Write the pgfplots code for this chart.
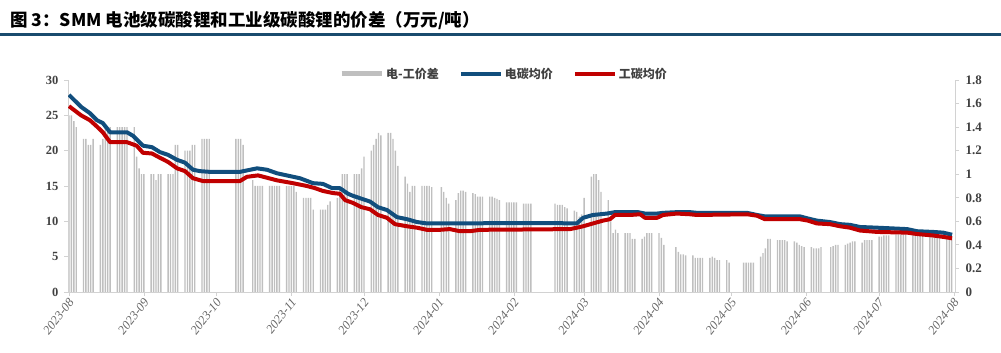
\documentclass[border=0pt]{standalone}
\usepackage{pgfplots}
\pgfplotsset{compat=1.18}
\usepackage{fontspec}
\setmainfont{Liberation Serif}
\newfontfamily\cjk{Noto Sans CJK SC}
\definecolor{bluec}{RGB}{17,78,125}
\definecolor{redc}{RGB}{192,0,0}
\definecolor{barc}{RGB}{191,191,191}
\definecolor{rulec}{RGB}{25,75,110}
\definecolor{txtc}{RGB}{64,64,64}
\definecolor{axc}{RGB}{210,210,210}
\pgfplotstableread{
d v
0 1.5
1 1.5
2 1.45
3 1.4
6 1.3
7 1.3
8 1.25
9 1.25
10 1.3
13 1.25
14 1.3
15 1.4
16 1.4
17 1.4
20 1.4
21 1.4
22 1.4
23 1.4
24 1.4
27 1.4
28 1.15
29 1.05
30 1.0
31 1.0
34 1.0
35 1.0
36 0.95
37 1.0
38 1.0
41 1.0
42 1.0
43 1.0
44 1.25
45 1.25
48 1.2
49 1.2
50 1.2
51 1.25
52 1.25
55 1.3
56 1.3
57 1.3
58 1.3
69 1.3
70 1.3
71 1.3
72 1.25
76 0.95
77 0.9
78 0.9
79 0.9
80 0.9
83 0.9
84 0.9
85 0.9
86 0.9
87 0.9
90 0.9
91 0.9
92 0.9
93 0.9
94 0.85
97 0.8
98 0.8
99 0.8
100 0.8
101 0.7
104 0.7
105 0.7
106 0.7
107 0.74
108 0.77
111 0.8
112 0.89
113 1.0
114 1.0
115 1.0
118 1.0
119 1.0
120 1.0
121 1.05
122 1.15
125 1.2
126 1.25
127 1.3
128 1.35
129 1.33
132 1.35
133 1.35
134 1.3
135 1.2
136 1.07
139 0.98
140 0.92
141 0.85
142 0.9
143 0.9
146 0.9
147 0.9
148 0.9
149 0.9
150 0.89
154 0.89
155 0.85
156 0.8
157 0.75
160 0.78
161 0.84
162 0.86
163 0.86
164 0.85
167 0.84
168 0.83
169 0.81
170 0.81
171 0.81
174 0.81
175 0.81
176 0.8
177 0.79
178 0.78
181 0.76
182 0.76
183 0.76
184 0.76
185 0.76
188 0.75
189 0.75
190 0.75
191 0.75
201 0.75
202 0.74
203 0.74
204 0.74
205 0.72
206 0.71
209 0.69
210 0.68
211 0.64
212 0.66
213 0.8
216 0.98
217 1.0
218 1.0
219 0.95
220 0.85
223 0.78
224 0.6
225 0.5
226 0.53
227 0.5
230 0.5
231 0.5
232 0.5
233 0.45
234 0.45
237 0.45
238 0.47
239 0.5
240 0.5
241 0.5
244 0.5
245 0.46
246 0.4
251 0.38
252 0.34
253 0.32
254 0.32
255 0.31
258 0.31
259 0.29
260 0.29
261 0.29
262 0.29
265 0.29
266 0.3
267 0.29
268 0.27
269 0.27
272 0.27
273 0.25
279 0.25
280 0.25
281 0.25
282 0.25
283 0.25
286 0.3
287 0.33
288 0.37
289 0.45
290 0.45
293 0.44
294 0.44
295 0.44
296 0.44
297 0.43
300 0.43
301 0.42
302 0.4
303 0.39
304 0.38
307 0.38
308 0.37
309 0.37
310 0.37
311 0.38
315 0.38
316 0.39
317 0.4
318 0.4
321 0.4
322 0.41
323 0.42
324 0.43
325 0.43
328 0.42
329 0.44
330 0.44
331 0.44
332 0.44
335 0.47
336 0.47
337 0.48
338 0.48
339 0.48
342 0.49
343 0.49
344 0.49
345 0.49
346 0.49
349 0.49
350 0.49
351 0.49
352 0.49
353 0.49
356 0.48
357 0.48
358 0.48
359 0.48
360 0.48
363 0.46
364 0.45
365 0.45
}\spread
\pgfplotstableread{
d v
0 27.9
5 26.2
8.7 25.3
11.6 24.3
14 23.9
17 22.6
24 22.6
26.5 22.1
30.6 20.7
34.3 20.5
37.6 19.8
41 19.4
44.7 18.7
48 18.3
51.3 17.3
54.2 17.1
58.3 17.0
70.7 17.0
77.8 17.5
81.9 17.3
86 16.8
91.4 16.4
95.5 16.1
100.9 15.4
105 15.3
108.8 14.7
112 14.7
115.4 13.9
117.5 13.6
121 13.2
124.5 12.8
127.8 12.0
131.5 11.6
135.6 10.6
139.8 10.3
143.9 9.9
148 9.7
160 9.7
180 9.75
200 9.75
210 9.7
212.6 10.5
216.7 10.9
222.5 11.1
225.8 11.3
235.3 11.3
238.2 11.1
243.2 11.1
245.7 11.2
251.4 11.3
256.8 11.3
259.7 11.2
272 11.2
280.4 11.2
284.5 10.9
287.8 10.7
302.3 10.7
305.6 10.4
309.3 10.1
314.7 9.9
318.9 9.6
323 9.5
327.1 9.2
334.2 9.1
346.6 8.9
350.7 8.6
357.3 8.5
361.5 8.4
365.2 8.1
}\battery
\pgfplotstableread{
d v
0 26.3
5 25.0
8.7 24.3
11.6 23.4
14 22.6
17 21.2
24 21.2
28 20.7
30.6 19.7
34.3 19.6
37.6 19.0
41 18.4
44.7 17.5
48 17.1
51.3 16.1
55.4 15.7
70.7 15.7
73.6 16.3
78.2 16.5
86 15.8
92.6 15.4
98.4 15.0
101.7 14.7
105 14.3
109.2 14.0
112 13.9
114.2 13.0
117.5 12.6
121 12.0
124.5 11.7
127.8 10.9
131.5 10.5
134.8 9.6
139.8 9.3
143.9 9.1
148 8.8
153.4 8.8
157.5 8.9
161.7 8.6
165.8 8.6
170 8.8
190 8.85
207.2 8.9
210 9.1
212.6 9.3
216.7 9.7
220.8 10.1
223.7 10.3
225.8 10.9
232 10.9
236.2 11.0
238.2 10.5
243.2 10.5
245.7 10.9
251.4 11.1
256.8 11.0
259.7 10.9
280.4 11.0
284.5 10.8
287.8 10.3
302.3 10.3
305.6 10.1
309.3 9.7
314.7 9.6
318.9 9.3
323 9.1
327.1 8.7
334.2 8.5
346.6 8.4
350.7 8.2
357.3 8.0
361.5 7.8
365.2 7.6
}\industrial
\begin{document}
\begin{tikzpicture}[x=1pt,y=1pt]
\useasboundingbox (0,0) rectangle (1001,353);
\node[anchor=west, inner sep=0pt, font=\cjk\bfseries\fontsize{17.5}{17.5}\selectfont] at (10,332) {图 3：SMM 电池级碳酸锂和工业级碳酸锂的价差（万元/吨）};
\fill[rulec] (0,317) rectangle (1001,320);
\pgfplotsset{
  common/.style={
    at={(68pt,61pt)}, anchor=south west, scale only axis,
    width=887pt, height=212pt, xmin=-0.4, xmax=366.4,
    axis line style={-, draw=axc, line width=0.8pt},
    tick style={draw=axc, line width=0.8pt},
    major tick length=4pt, tick align=outside,
    /pgf/number format/assume math mode=true,
    yticklabel style={font=\bfseries\fontsize{12.5}{12.5}\selectfont, text=txtc},
  }
}
\begin{axis}[common,
  ymin=0, ymax=1.8,
  axis x line=none, axis y line*=right,
  ytick={0,0.2,0.4,0.6,0.8,1,1.2,1.4,1.6,1.8},
  yticklabel style={xshift=3pt, font=\bfseries\fontsize{13}{13}\selectfont, /pgf/number format/fixed, /pgf/number format/precision=1},
]
\addplot[ybar, bar width=1.4pt, fill=barc, draw=none] table[x=d,y=v] {\spread};
\end{axis}
\begin{axis}[common,
  ymin=0, ymax=30,
  axis x line*=bottom, axis y line*=left,
  ytick={0,5,10,15,20,25,30},
  yticklabel style={xshift=-2pt},
  xtick={0,31,61,92,122,153,184,213,244,274,305,335,366},
  xticklabels={2023-08,2023-09,2023-10,2023-11,2023-12,2024-01,2024-02,2024-03,2024-04,2024-05,2024-06,2024-07,2024-08},
  xticklabel style={rotate=52, anchor=east, yshift=-4pt, xshift=2pt, font=\itshape\fontsize{12.5}{12.5}\selectfont, text=black!60},
  legend style={at={(0.4915,1.03)}, anchor=center, draw=none, fill=none,
    legend columns=3, font=\cjk\bfseries\fontsize{12}{12}\selectfont, text=txtc,
    /tikz/every even column/.append style={column sep=18pt}},
]
\addlegendimage{legend image code/.code={\draw[barc, line width=5pt] (0pt,0pt) -- (40pt,0pt);}}
\addlegendentry{电-工价差}
\addplot[bluec, line width=4pt, line join=round, legend image code/.code={\draw[bluec, line width=4pt] (0pt,0pt) -- (40pt,0pt);}] table[x=d,y=v] {\battery};
\addlegendentry{电碳均价}
\addplot[redc, line width=4pt, line join=round, legend image code/.code={\draw[redc, line width=4pt] (0pt,0pt) -- (40pt,0pt);}] table[x=d,y=v] {\industrial};
\addlegendentry{工碳均价}
\end{axis}
\end{tikzpicture}
\end{document}
